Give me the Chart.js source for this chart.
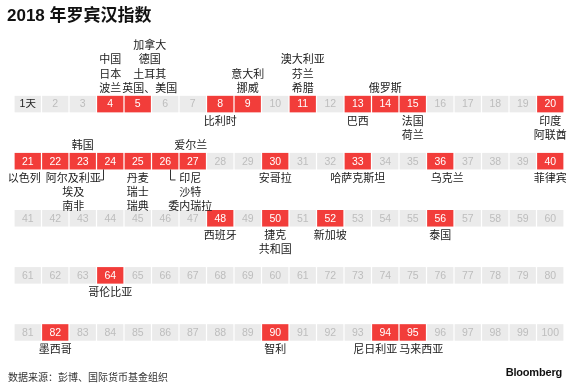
<!DOCTYPE html>
<html>
<head>
<meta charset="utf-8">
<script src="https://cdn.jsdelivr.net/npm/chart.js@4"></script>
<style>
  html, body { margin: 0; padding: 0; background: #fff; }
  #wrap { position: relative; width: 580px; height: 386px; overflow: hidden; }
  #title { position: absolute; left: 7px; top: 6px; font: bold 17px/20px "Liberation Sans", "Noto Sans CJK SC", sans-serif; color: #111; white-space: nowrap; }
  #source { position: absolute; left: 8px; top: 371px; font: 10px/12px "Noto Sans CJK SC", sans-serif; color: #333; white-space: nowrap; }
  #brand { position: absolute; right: 18px; top: 366px; font: bold 11px/12px "Liberation Sans", Arial, sans-serif; color: #111; letter-spacing: -0.2px; }
  canvas { position: absolute; left: 0; top: 0; }
</style>
</head>
<body>
<div id="wrap">
  <canvas id="c" width="580" height="386"></canvas>
  <div id="title">2018 年罗宾汉指数</div>
  <div id="source">数据来源：彭博、国际货币基金组织</div>
  <div id="brand">Bloomberg</div>
</div>
<script>
// ---- data ----
const columnsPerRow = 20;
const cellLabels = [
  '1天','2','3','4','5','6','7','8','9','10','11','12','13','14','15','16','17','18','19','20',
  '21','22','23','24','25','26','27','28','29','30','31','32','33','34','35','36','37','38','39','40',
  '41','42','43','44','45','46','47','48','49','50','51','52','53','54','55','56','57','58','59','60',
  '61','62','63','64','65','66','67','68','69','60','61','72','73','74','75','76','77','78','79','80',
  '81','82','83','84','85','86','87','88','89','90','91','92','93','94','95','96','97','98','99','100'
];
const highlightedDays = [4, 5, 8, 9, 11, 13, 14, 15, 20, 21, 22, 23, 24, 25, 26, 27, 30, 33, 36, 40, 48, 50, 52, 56, 64, 82, 90, 94, 95];
const labelDays = [4, 5, 8, 9, 11, 13, 14, 15, 20, 21, 23, 24, 25, 26, 27, 30, 33, 36, 40, 48, 50, 52, 56, 64, 82, 90, 94, 95];
const labelTexts = [
  ['中国','日本','波兰'],
  ['加拿大','德国','土耳其','英国、美国'],
  ['比利时'],
  ['意大利','挪威'],
  ['澳大利亚','芬兰','希腊'],
  ['巴西'],
  ['俄罗斯'],
  ['法国','荷兰'],
  ['印度','阿联酋'],
  ['以色列'],
  ['韩国'],
  ['阿尔及利亚','埃及','南非'],
  ['丹麦','瑞士','瑞典'],
  ['印尼','沙特','委内瑞拉'],
  ['爱尔兰'],
  ['安哥拉'],
  ['哈萨克斯坦'],
  ['乌克兰'],
  ['菲律宾'],
  ['西班牙'],
  ['捷克','共和国'],
  ['新加坡'],
  ['泰国'],
  ['哥伦比亚'],
  ['墨西哥'],
  ['智利'],
  ['尼日利亚'],
  ['马来西亚']
];
const labelSides = ['above','above','below','above','above','below','above','below','below','below',
  'above','below','below','below','above','below','below','below','below','below',
  'below','below','below','below','below','below','below','below'];

// ---- layout / style (not data) ----
const RED = '#f23d3a', GREY = '#ebebeb';
const labelShift = {5: 12, 21: -3.5, 24: -37, 26: 25, 27: -2, 36: 7, 94: -10, 95: 8.5};
const leaders = {24: {dx: -7.5, dir: -1}, 26: {dx: 5, dir: 1}};
const halfH = 0.145;

const rowCount = Math.ceil(cellLabels.length / columnsPerRow);
const columns = Array.from({length: columnsPerRow}, (_, i) => String(i + 1));
const datasets = [];
for (let r = 0; r < rowCount; r++) {
  const data = [], colors = [];
  for (let c = 0; c < columnsPerRow; c++) {
    const day = r * columnsPerRow + c + 1;
    data.push([r - halfH, r + halfH]);
    colors.push(highlightedDays.includes(day) ? RED : GREY);
  }
  datasets.push({data, backgroundColor: colors, borderWidth: 0, grouped: false,
    barPercentage: 0.955, categoryPercentage: 1});
}

function cellEl(chart, day) {
  const r = Math.floor((day - 1) / columnsPerRow), c = (day - 1) % columnsPerRow;
  return chart.getDatasetMeta(r).data[c];
}

const gridText = {
  id: 'gridText',
  afterDatasetsDraw(chart) {
    const ctx = chart.ctx;
    ctx.save();
    ctx.textAlign = 'center';
    ctx.textBaseline = 'middle';
    // numbers inside cells
    for (let i = 0; i < cellLabels.length; i++) {
      const day = i + 1;
      const el = cellEl(chart, day);
      const p = el.getCenterPoint();
      const hi = highlightedDays.includes(day);
      ctx.font = '10.5px "Liberation Sans", "Noto Sans CJK SC", sans-serif';
      ctx.fillStyle = hi ? '#ffffff' : (day === 1 ? '#222222' : '#bdbdbd');
      ctx.fillText(cellLabels[i], p.x, p.y + 0.5);
    }
    // country labels
    ctx.font = '11px "Noto Sans CJK SC", sans-serif';
    ctx.fillStyle = '#1a1a1a';
    const lh = 14.3;
    labelDays.forEach((day, k) => {
      const el = cellEl(chart, day);
      const top = Math.min(el.y, el.base), bottom = Math.max(el.y, el.base);
      const x = el.x + (labelShift[day] || 0);
      const lines = labelTexts[k];
      if (labelSides[k] === 'above') {
        const lastY = top - 8;
        lines.forEach((t, j) => ctx.fillText(t, x, lastY - (lines.length - 1 - j) * lh));
      } else {
        const firstY = bottom + 8;
        lines.forEach((t, j) => ctx.fillText(t, x, firstY + j * lh));
      }
      const ld = leaders[day];
      if (ld) {
        const lx = Math.round(el.x + ld.dx) + 0.5;
        ctx.strokeStyle = '#333';
        ctx.lineWidth = 1;
        ctx.beginPath();
        ctx.moveTo(lx, bottom);
        ctx.lineTo(lx, bottom + 10.5);
        ctx.lineTo(lx + ld.dir * 5, bottom + 10.5);
        ctx.stroke();
      }
    });
    ctx.restore();
  }
};

new Chart(document.getElementById('c'), {
  type: 'bar',
  data: {labels: columns, datasets},
  options: {
    responsive: false,
    animation: false,
    devicePixelRatio: 1,
    layout: {padding: {left: 14, right: 16, top: 47, bottom: 25}},
    scales: {
      x: {display: false},
      y: {display: false, reverse: true, min: -1, max: 4.5}
    },
    plugins: {legend: {display: false}, tooltip: {enabled: false}, title: {display: false}}
  },
  plugins: [gridText]
});
</script>
</body>
</html>
